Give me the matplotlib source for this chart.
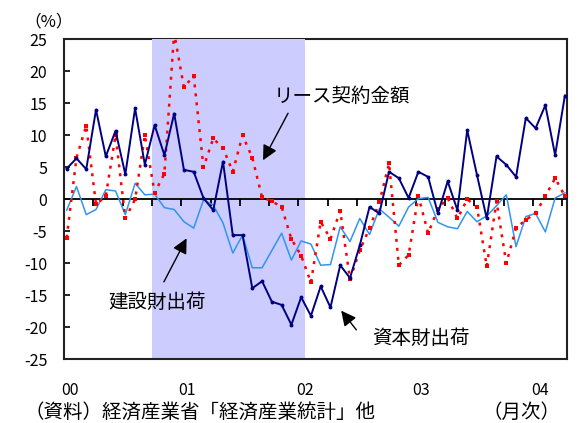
import matplotlib
matplotlib.use("Agg")
import matplotlib.pyplot as plt
import numpy as np

plt.rcParams['font.family'] = ['Noto Sans CJK JP', 'DejaVu Sans']

# Monthly data, 2000-01 .. 2004-04 (52 months), y/y % change
capital_goods = [4.8, 6.4, 4.7, 14.0, 6.7, 10.7, 3.9, 14.2, 5.4, 11.6,
                 6.9, 13.4, 4.6, 4.3, 0.2, -1.7, 5.9, -5.6, -5.6, -13.9,
                 -12.8, -16.0, -16.5, -19.6, -15.3, -18.2, -13.6, -16.9, -10.3, -12.3,
                 -7.2, -1.2, -2.2, 4.3, 3.3, 0.2, 4.3, 3.5, -2.2, 2.8,
                 -1.7, 10.8, 3.8, -3.0, 6.7, 5.4, 3.5, 12.7, 11.1, 14.7,
                 6.9, 16.2]
construction_goods = [-1.7, 2.0, -2.4, -1.6, 1.5, 1.3, -2.4, 2.5, 0.7, 0.8,
                      -1.3, -1.6, -3.5, -4.5, -0.1, -0.9, -3.7, -8.4, -5.6, -10.7,
                      -10.7, -8.0, -5.3, -9.5, -6.5, -7.0, -10.3, -10.2, -4.3, -6.6,
                      -3.0, -5.5, -1.5, -2.8, -4.2, -1.2, 0.1, 0.3, -3.6, -4.3,
                      -4.6, -1.9, -3.5, -2.6, -1.0, 0.7, -7.4, -2.7, -2.2, -5.1,
                      0.2, 1.0]
lease_contracts = [-6.0, 6.5, 11.5, -0.8, 0.5, 10.0, -3.0, 0.0, 10.0, 1.0,
                   4.0, 26.0, 17.5, 19.3, 5.0, 9.5, 8.0, 4.3, 10.0, 6.5,
                   0.3, -0.3, -1.2, -6.2, -8.8, -13.0, -3.5, -6.2, -1.8, -12.5,
                   -8.0, -4.5, -0.5, 5.6, -10.3, -8.7, 0.5, -5.3, -1.5, 0.2,
                   -3.0, 0.0, -1.2, -10.5, -0.3, -10.0, -4.5, -3.2, -2.2, 0.5,
                   3.3, 0.5]

year_labels = ["00", "01", "02", "03", "04"]
year_label_pos = [0.3, 12.3, 24.4, 36.3, 48.5]
quarter_ticks = [3 * k - 0.28 for k in range(1, 18)]
y_ticks = [25, 20, 15, 10, 5, 0, -5, -10, -15, -20, -25]
recession = (8.72, 24.37)

months = np.arange(len(capital_goods))

fig = plt.figure(figsize=(5.79, 4.23), dpi=100)
ax = fig.add_axes([0.1105, 0.1506, 0.8685, 0.7565])

ax.axvspan(recession[0], recession[1], color='#CCCCFF', zorder=2.6, lw=0)

ax.axhline(0, color='black', lw=1.3, zorder=3)
ax.plot(quarter_ticks, np.zeros(len(quarter_ticks)), linestyle='none',
        marker=3, markersize=5, markeredgewidth=1.3, color='black', zorder=3)

ax.plot(months, construction_goods, color='#3094F0', lw=1.1, zorder=4)
ax.plot(months, lease_contracts, color='#FF0000', lw=1.8,
        linestyle=(0, (1.2, 2.4)), marker='s', markersize=2.4,
        markeredgewidth=0, zorder=5)
ax.plot(months, capital_goods, color='#000080', lw=1.4, marker='o',
        markersize=1.8, zorder=6)

ax.set_xlim(-0.28, 51.2)
ax.set_ylim(-25, 25)

ax.set_yticks(y_ticks)
ax.set_yticklabels([str(v) for v in y_ticks])
ax.tick_params(axis='y', direction='in', length=4, width=1.2, pad=12,
               labelsize=11.5)
ax.set_xticks(year_label_pos)
ax.set_xticklabels(year_labels)
ax.tick_params(axis='x', length=0, pad=16, labelsize=11.5)

for s in ['left', 'right', 'top', 'bottom']:
    ax.spines[s].set_linewidth(1.5)
    ax.spines[s].set_color('#222222')
ax.spines['bottom'].set_zorder(2.7)
ax.spines['left'].set_zorder(2.7)
ax.spines['right'].set_zorder(2.7)

arrow = dict(arrowstyle='-|>,head_length=0.9,head_width=0.45', color='black',
             lw=1.0, shrinkA=0, shrinkB=0)
ax.annotate('', xy=(20.1, 6.1), xytext=(22.66, 13.45), arrowprops=arrow, zorder=7)
ax.annotate('', xy=(12.27, -6.1), xytext=(9.95, -12.9), arrowprops=arrow, zorder=7)
ax.annotate('', xy=(28.1, -17.4), xytext=(29.65, -20.4), arrowprops=arrow, zorder=7)

ax.text(28.15, 16.0, 'リース契約金額', ha='center', va='center', fontsize=14, zorder=7)
ax.text(9.23, -16.05, '建設財出荷', ha='center', va='center', fontsize=14, zorder=7)
ax.text(36.3, -21.8, '資本財出荷', ha='center', va='center', fontsize=14, zorder=7)

fig.text(24 / 579, 1 - 21.7 / 423, '（%）', ha='left', va='center', fontsize=12)
fig.text(24 / 579, 1 - 412 / 423, '（資料）経済産業省「経済産業統計」他',
         ha='left', va='center', fontsize=14)
fig.text(560 / 579, 1 - 412 / 423, '（月次）', ha='right', va='center', fontsize=14)

fig.savefig('out.png', dpi=100)
